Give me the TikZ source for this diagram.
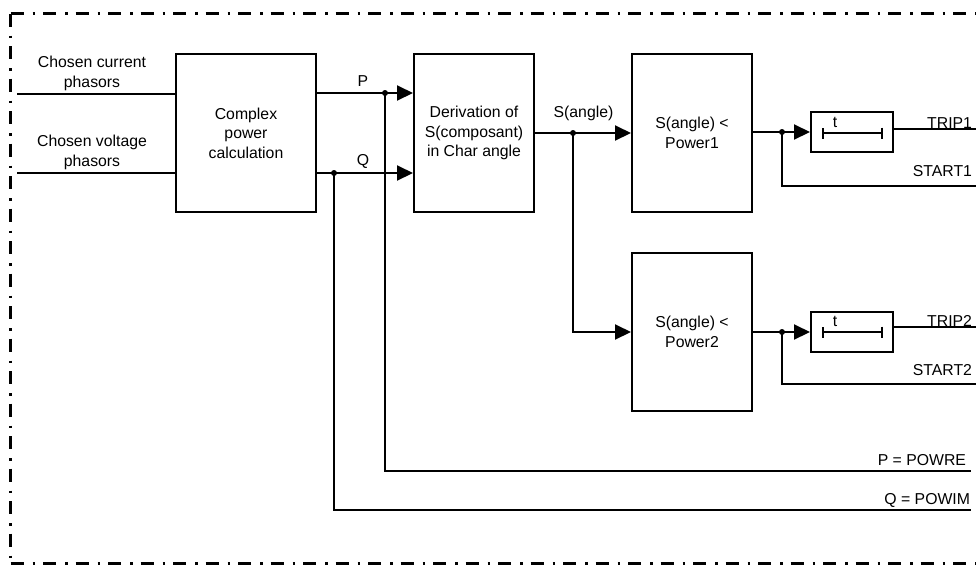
\documentclass[tikz,border=0pt]{standalone}
\usepackage{fontspec}
\setmainfont{Liberation Sans}
\usetikzlibrary{arrows.meta}
\begin{document}
\begin{tikzpicture}[x=1pt,y=-1pt,
  font=\fontsize{15.8}{19.5}\selectfont,
  line width=2pt,
  blk/.style={draw, line width=2pt, align=center, inner sep=0pt},
  bigbox/.style={blk, minimum width=120pt, minimum height=158pt},
  timerbox/.style={blk, minimum width=82pt, minimum height=40pt},
  arr/.style={-{Triangle[length=16pt,width=15pt]}},
  dotc/.style={circle, fill, inner sep=0pt, minimum size=6pt},
  lbl/.style={inner sep=0pt, align=center},
  outlbl/.style={inner sep=0pt, anchor=base east},
  frame/.style={line width=3pt, dash pattern=on 13pt off 9pt on 2.5pt off 8pt}]
\useasboundingbox (0,0) rectangle (976,566);

% frame
\coordinate (ftl) at (10.5,13.5);
\coordinate (fbl) at (10.5,563.5);
\coordinate (ftr) at (976,13.5);
\coordinate (fbr) at (976,563.5);
\draw[frame] (ftl) -- (ftr);
\draw[frame] (ftl) -- (fbl);
\draw[frame] (fbl) -- (fbr);

% blocks
\node[blk, minimum width=140pt, minimum height=158pt] (b1) at (246,133) {Complex\\power\\calculation};
\node[bigbox] (b2) at (474,133) {Derivation of\\S(composant)\\in Char angle};
\node[bigbox] (b3) at (692,133) {S(angle) <\\Power1};
\node[bigbox] (b4) at (692,332) {S(angle) <\\Power2};
\node[timerbox] (t1) at (852,132) {};
\node[timerbox] (t2) at (852,332) {};

% timer symbols
\path (t1.center) ++(-30,1) coordinate (t1a) ++(61,0) coordinate (t1b);
\draw[line width=2pt, {Bar[width=11pt]}-{Bar[width=11pt]}] (t1a) -- (t1b);
\node[lbl] (t1t) at (835,122) {t};
\path (t2.center) ++(-30,0) coordinate (t2a) ++(61,0) coordinate (t2b);
\draw[line width=2pt, {Bar[width=11pt]}-{Bar[width=11pt]}] (t2a) -- (t2b);
\node[lbl] (t2t) at (835,321) {t};

% inputs
\node[lbl] (lin1) at (92,73.5) {Chosen current\\phasors};
\node[lbl] (lin2) at (92,152.5) {Chosen voltage\\phasors};
\coordinate (in1) at (17,94);
\coordinate (in2) at (17,173);
\draw (in1) -- (in1 -| b1.west);
\draw (in2) -- (in2 -| b1.west);

% P and Q
\node[dotc] (pdot) at (385,93) {};
\node[dotc] (qdot) at (334,173) {};
\draw[arr] (b1.east |- pdot) -- (b2.west |- pdot);
\draw[arr] (b1.east |- qdot) -- (b2.west |- qdot);
\node[lbl] (plbl) at (363,81) {P};
\node[lbl] (qlbl) at (363,161) {Q};
\coordinate (pend) at (971,471);
\coordinate (qend) at (971,510);
\draw (pdot.center) |- (pend);
\draw (qdot.center) |- (qend);
\node[outlbl] (powre) at (967,465) {P = POWRE};
\node[outlbl] (powim) at (971,504) {Q = POWIM};

% S(angle)
\node[dotc] (sdot) at (573,133) {};
\draw[arr] (b2.east) -- (b3.west);
\draw[arr] (sdot.center) |- (b4.west);
\node[lbl] (slbl) at (583.5,113) {S(angle)};

% stage 1 outputs
\node[dotc] (d1) at (782,132) {};
\draw[arr] (b3.east |- t1.west) -- (t1.west);
\coordinate (trip1) at (976,129);
\coordinate (start1) at (976,186);
\draw (trip1 -| t1.east) -- (trip1);
\draw (d1.center) |- (start1);
\node[outlbl] (trip1l) at (973,128) {TRIP1};
\node[outlbl] (start1l) at (973,176) {START1};

% stage 2 outputs
\node[dotc] (d2) at (782,332) {};
\draw[arr] (b4.east) -- (t2.west);
\coordinate (trip2) at (976,327);
\coordinate (start2) at (976,384);
\draw (trip2 -| t2.east) -- (trip2);
\draw (d2.center) |- (start2);
\node[outlbl] (trip2l) at (973,326) {TRIP2};
\node[outlbl] (start2l) at (973,375) {START2};
\end{tikzpicture}
\end{document}
